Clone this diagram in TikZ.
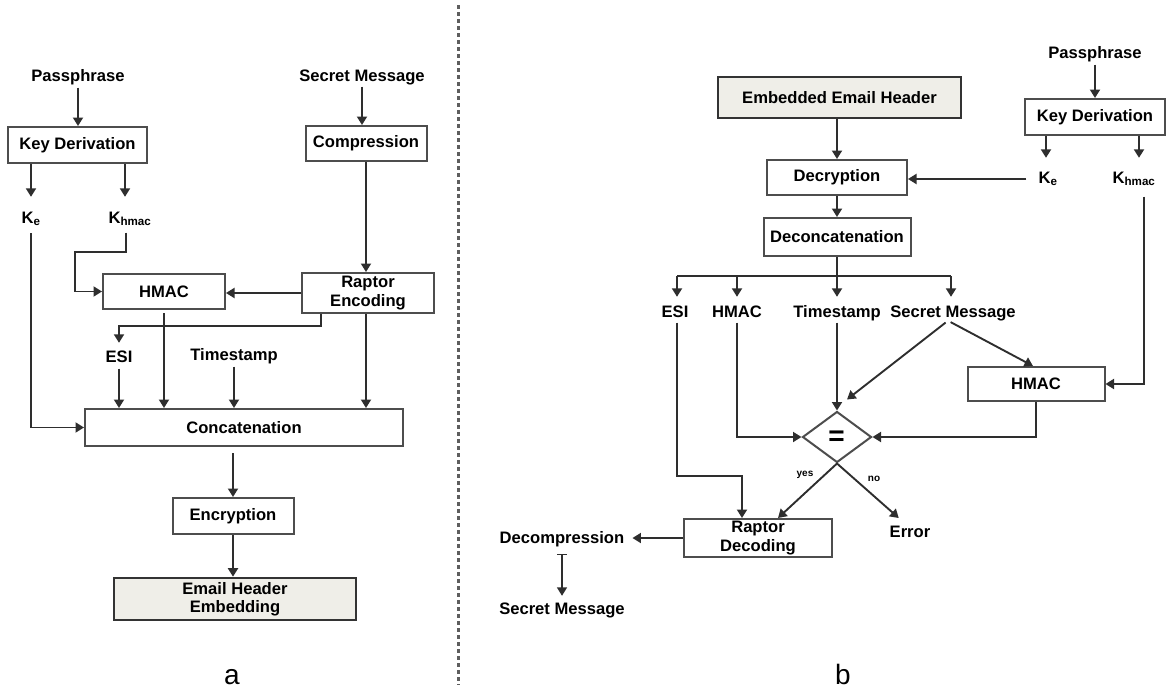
\documentclass[tikz,border=0pt]{standalone}
\usepackage{fontspec}
\setmainfont{Liberation Sans}
\usetikzlibrary{arrows.meta,shapes.geometric,calc}
\definecolor{linegray}{HTML}{2E2E2E}
\definecolor{boxgray}{HTML}{4D4D4D}
\definecolor{embfill}{HTML}{EFEEE8}
\definecolor{embdraw}{HTML}{333333}
\definecolor{divgray}{HTML}{5E5E5E}
\begin{document}
\begin{tikzpicture}[x=1pt,y=-1pt,
  font=\fontsize{16.6}{18.5}\selectfont\bfseries,
  box/.style={draw=boxgray,line width=2pt,inner sep=0pt,align=center,text=black},
  embox/.style={box,fill=embfill,draw=embdraw,line width=2.6pt},
  lbl/.style={inner sep=0pt,text height=11.5pt,text depth=3.5pt,anchor=base},
  small/.style={lbl,font=\fontsize{10}{12}\selectfont\bfseries,text height=7pt,text depth=2pt},
  arr/.style={draw=linegray,line width=1.9pt,-{Triangle[length=8.5pt,width=10pt]}},
  barr/.style={draw=linegray,line width=1.6pt,{Bar[width=10pt,line width=1.2pt]}-{Triangle[length=8.5pt,width=10pt]}},
  ln/.style={draw=linegray,line width=1.9pt},
  divider/.style={draw=divgray,line width=3pt,dash pattern=on 3.5pt off 3.5pt},
  panel/.style={anchor=base,font=\fontsize{28}{28}\selectfont}
]
\useasboundingbox (0,0) rectangle (1167,688);

% ---------------- panel a ----------------
\node[lbl] (pp1) at (78,81) {Passphrase};
\node[box,minimum width=139pt,minimum height=36pt] (kd1) at (77.5,145) {Key Derivation};
\node[lbl] (ke1) at (31,223) {K\textsubscript{e}};
\node[lbl] (kh1) at (130,223) {K\textsubscript{hmac}};
\node[lbl] (sm1) at (362,81) {Secret Message};
\node[box,minimum width=121pt,minimum height=35pt] (comp) at (366,143.5) {Compression};
\node[box,minimum width=122pt,minimum height=35pt] (hmac1) at (164,291.5) {HMAC};
\node[box,minimum width=132pt,minimum height=40pt] (rap) at (368,293) {Raptor\\Encoding};
\node[lbl] (esi1) at (119,362) {ESI};
\node[lbl] (ts1) at (234,360) {Timestamp};
\node[box,minimum width=318pt,minimum height=37pt] (conc) at (244,427.5) {Concatenation};
\node[box,minimum width=121pt,minimum height=36pt] (enc) at (233,516) {Encryption};
\node[embox,minimum width=242pt,minimum height=42pt] (emb) at (235,599) {Email Header\\Embedding};
\node[panel] (la) at (232,684) {a};

\draw[arr,shorten <=3pt] (pp1.south) -- (pp1.south |- kd1.north);
\draw[arr,shorten >=14.5pt] (ke1.north |- kd1.south) -- (ke1.north);
\draw[arr,shorten >=14.5pt] ([xshift=-5pt]kh1.north |- kd1.south) -- ([xshift=-5pt]kh1.north);
\draw[arr,shorten <=6pt] ([xshift=-4pt]kh1.south) -- ++(0,25.5) -| ++(-51,20) |- (hmac1.west);
\draw[arr,shorten <=6.5pt] (ke1.south) |- (conc.west);
\draw[arr,shorten <=2pt] (sm1.south) -- (sm1.south |- comp.north);
\draw[arr] (comp.south) -- (comp.south |- rap.north);
\draw[arr] (rap.west) -- (rap.west -| hmac1.east);
\draw[arr,shorten >=7.5pt] ([xshift=20pt]rap.south west) -- ++(0,12) -| (esi1.north);
\draw[arr,shorten <=3pt] (esi1.south) -- (esi1.south |- conc.north);
\draw[arr,shorten <=3pt] (hmac1.south) -- (hmac1.south |- conc.north);
\draw[arr,shorten <=3pt] (ts1.south) -- (ts1.south |- conc.north);
\draw[arr] ([xshift=-2pt]rap.south) -- ([xshift=-2pt]rap.south |- conc.north);
\draw[arr,shorten <=6pt] (enc.north |- conc.south) -- (enc.north);
\draw[arr] (enc.south) -- (enc.south |- emb.north);

% ---------------- divider ----------------
\draw[divider] (458,5) -- (458,685);

% ---------------- panel b ----------------
\node[embox,minimum width=243pt,minimum height=41pt] (eeh) at (839.5,97.5) {Embedded Email Header};
\node[box,minimum width=140pt,minimum height=35pt] (dec) at (837,177.5) {Decryption};
\node[lbl] (pp2) at (1095,58) {Passphrase};
\node[box,minimum width=140pt,minimum height=36pt] (kd2) at (1095,117) {Key Derivation};
\node[lbl] (ke2) at (1048,183) {K\textsubscript{e}};
\node[lbl] (kh2) at (1134,183) {K\textsubscript{hmac}};
\node[box,minimum width=147pt,minimum height=38pt] (deconc) at (837,237) {Deconcatenation};
\coordinate (bus) at ([yshift=-19pt]deconc.south);
\node[lbl] (esi2) at (675,317) {ESI};
\node[lbl] (hm2t) at (737,317) {HMAC};
\node[lbl] (ts2) at (837,317) {Timestamp};
\node[lbl] (sm2) at (953,317) {Secret Message};
\node[box,minimum width=137pt,minimum height=34pt] (hmac2) at (1036,384) {HMAC};
\node[draw=boxgray,line width=2pt,diamond,minimum width=69pt,minimum height=51pt,inner sep=0pt] (dia) at (837,437) {};
\node[inner sep=0pt,font=\fontsize{28}{28}\selectfont\bfseries] (eq) at (836.5,438) {=};
\node[small] (yes) at (805,476) {yes};
\node[small] (no) at (874,481) {no};
\node[lbl] (err) at (910,537) {Error};
\node[box,minimum width=148pt,minimum height=38pt] (rdec) at (758,538) {Raptor\\Decoding};
\node[lbl] (decomp) at (562,543) {Decompression};
\node[lbl] (sm3) at (562,614) {Secret Message};
\node[panel] (lb) at (843,684) {b};

\draw[arr] (dec.north |- eeh.south) -- (dec.north);
\draw[arr] (dec.south) -- (dec.south |- deconc.north);
\draw[arr,shorten <=3pt] (pp2.south) -- (pp2.south |- kd2.north);
\draw[arr,shorten >=13.5pt] ([xshift=-2pt]ke2.north |- kd2.south) -- ([xshift=-2pt]ke2.north);
\draw[arr,shorten >=13.5pt] ([xshift=5pt]kh2.north |- kd2.south) -- ([xshift=5pt]kh2.north);
\draw[arr,shorten <=12pt] (ke2.west) -- (ke2.west -| dec.east);
\draw[arr,shorten <=10pt] ([xshift=10pt]kh2.south) |- (hmac2.east);
\draw[ln] (deconc.south) -- (bus);
\draw[ln] ([xshift=2pt]esi2.north |- bus) -- ([xshift=-2pt]sm2.north |- bus);
\draw[arr,shorten >=8.5pt] ([xshift=2pt]esi2.north |- bus) -- ([xshift=2pt]esi2.north);
\draw[arr,shorten >=8.5pt] (hm2t.north |- bus) -- (hm2t.north);
\draw[arr,shorten >=8.5pt] (ts2.north |- bus) -- (ts2.north);
\draw[arr,shorten >=8.5pt] ([xshift=-2pt]sm2.north |- bus) -- ([xshift=-2pt]sm2.north);
\draw[arr,shorten <=2pt] ([xshift=2pt]esi2.south) -- ++(0,155) -| ([xshift=-16pt]rdec.north);
\draw[arr,shorten <=2pt] (hm2t.south) |- (dia.west);
\draw[arr,shorten <=2pt] (ts2.south) -- (ts2.south |- dia.north);
\draw[arr,shorten <=3pt] ([xshift=-5pt]sm2.south) -- ($(dia.north)+(10,-11)$);
\draw[arr,shorten <=3pt] ([xshift=-5pt]sm2.south) -- ([xshift=-3pt]hmac2.north);
\draw[arr] (hmac2.south) |- (dia.east);
\draw[arr] (dia.south) -- ([xshift=20pt]rdec.north);
\draw[arr,shorten >=11pt] (dia.south) -- ([xshift=-3pt]err.north);
\draw[arr,shorten >=8pt] (rdec.west) -- (rdec.west -| decomp.east);
\draw[barr,shorten <=7.5pt,shorten >=6.5pt] (decomp.south) -- (sm3.north);
\end{tikzpicture}
\end{document}
